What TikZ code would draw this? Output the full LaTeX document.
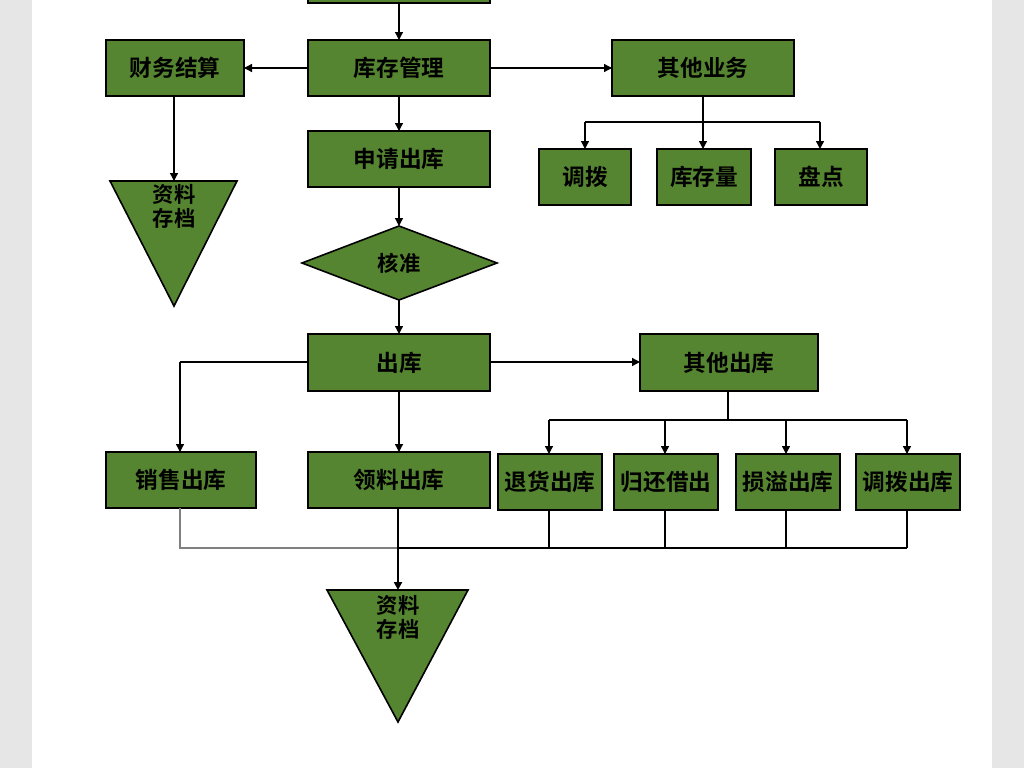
\documentclass[tikz,border=0pt]{standalone}
\usepackage{fontspec}
\newfontfamily\cjk{Noto Sans CJK SC}[BoldFont={Noto Sans CJK SC Bold}]
\usetikzlibrary{arrows.meta}
\definecolor{gf}{HTML}{558530}
\definecolor{sidegrey}{HTML}{E6E6E6}
\tikzset{
 bx/.style={draw=black,line width=1.2pt,fill=gf,font=\cjk\bfseries\fontsize{17}{19}\selectfont},
 tri/.style={draw=black,line width=1.2pt,fill=gf},
 ar/.style={draw=black,line width=1pt,-{Triangle[length=6pt,width=6pt]}},
 ln/.style={draw=black,line width=1pt},
 lab/.style={font=\cjk\bfseries\fontsize{16}{18}\selectfont,align=center,inner sep=0pt}
}
\begin{document}
\begin{tikzpicture}[x=0.75pt,y=-0.75pt]
\useasboundingbox (0,0) rectangle (1024,768);
\clip (0,0) rectangle (1024,768);
\fill[sidegrey] (0,0) rectangle (32,768);
\fill[sidegrey] (992,0) rectangle (1024,768);
\newcommand{\mybox}[6]{\draw[bx] (#2,#3) rectangle (#4,#5) node[midway] (#1) {#6};}
\mybox{top}{308}{-20}{490}{3}{}
\mybox{kc}{308}{40}{490}{96}{库存管理}
\mybox{cw}{106}{40}{244}{96}{财务结算}
\mybox{qt}{612}{40}{794}{96}{其他业务}
\mybox{sq}{308}{131}{490}{187}{申请出库}
\mybox{db}{539}{149}{631}{205}{调拨}
\mybox{kcl}{657}{149}{751}{205}{库存量}
\mybox{pd}{775}{149}{867}{205}{盘点}
\mybox{ck}{308}{334}{490}{391}{出库}
\mybox{qtck}{640}{334}{818}{391}{其他出库}
\mybox{xs}{106}{452}{256}{508}{销售出库}
\mybox{ll}{308}{452}{490}{508}{领料出库}
\mybox{th}{498}{454}{602}{510}{退货出库}
\mybox{gh}{614}{454}{718}{510}{归还借出}
\mybox{sy}{736}{454}{840}{510}{损溢出库}
\mybox{dbck}{856}{454}{960}{510}{调拨出库}
% diamond
\draw[tri] (302,263) -- (399,226) -- (497,263) -- (399,300) -- cycle;
\node[lab] (hz) at (399,263) {核准};
% triangles
\draw[tri] (110,181) -- (237,181) -- (174,306) -- cycle;
\node[lab] (t1) at (174,206) {资料\\存档};
\draw[tri] (327,590) -- (468,590) -- (398,722) -- cycle;
\node[lab] (t2) at (398,617) {资料\\存档};
\coordinate (t1top) at (174,181);
\coordinate (t2top) at (398,590);
% connectors
\draw[ar] (399,3) -- (399,40);
\draw[ar] (308,68) -- (244,68);
\draw[ar] (490,68) -- (612,68);
\draw[ar] (399,96) -- (399,131);
\draw[ar] (174,96) -- (t1top);
\draw[ln] (703,96) -- (703,122);
\draw[ln] (585,122) -- (820,122);
\draw[ar] (585,122) -- (585,149);
\draw[ar] (703,122) -- (703,149);
\draw[ar] (820,122) -- (820,149);
\draw[ar] (399,187) -- (399,226);
\draw[ar] (399,300) -- (399,334);
\draw[ln] (308,362) -- (180,362);
\draw[ar] (180,362) -- (180,452);
\draw[ar] (490,362) -- (640,362);
\draw[ar] (399,391) -- (399,452);
\draw[ln] (728,391) -- (728,420);
\draw[ln] (549,420) -- (907,420);
\foreach \x in {549,665,786,907} \draw[ar] (\x,420) -- (\x,454);
% bottom merge
\draw[ln,draw=gray,line width=0.8pt] (180,508) -- (180,548) -- (398,548);
\draw[ln,line width=0.8pt] (549,510) -- (549,548);
\draw[ln,line width=0.8pt] (665,510) -- (665,548);
\draw[ln,line width=0.8pt] (786,510) -- (786,548);
\draw[ln,line width=0.8pt] (907,510) -- (907,548);
\draw[ln,line width=1.6pt] (398,548) -- (907,548);
\draw[ln] (398,508) -- (398,548);
\draw[ar,line width=1.6pt] (398,548) -- (t2top);
\end{tikzpicture}
\end{document}
